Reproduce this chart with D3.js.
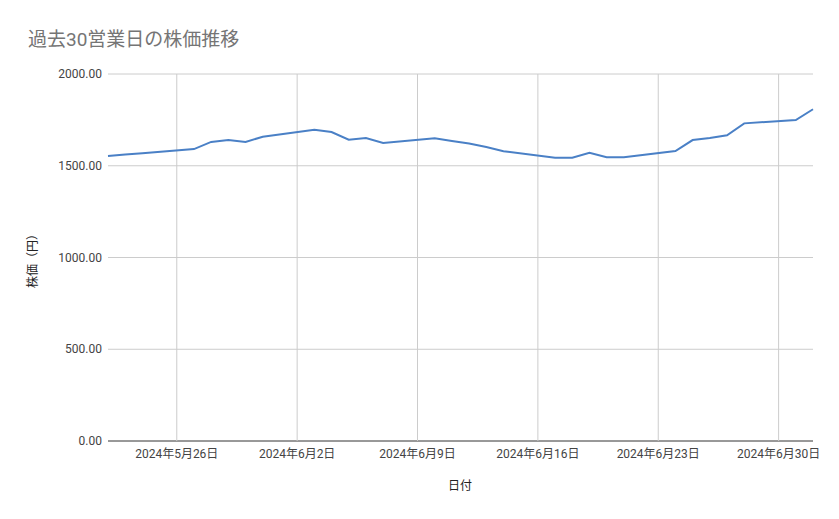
<!DOCTYPE html><html><head><meta charset="utf-8"><script src="https://cdn.jsdelivr.net/npm/d3@7"></script>
<style>body{margin:0;background:#fff}text{font-family:Roboto,"Noto Sans CJK JP",sans-serif}</style></head><body><svg id="c" width="839" height="519"></svg>
<script>
const dates=["2024-05-22","2024-05-23","2024-05-24","2024-05-27","2024-05-28","2024-05-29","2024-05-30","2024-05-31","2024-06-03","2024-06-04","2024-06-05","2024-06-06","2024-06-07","2024-06-10","2024-06-11","2024-06-12","2024-06-13","2024-06-14","2024-06-17","2024-06-18","2024-06-19","2024-06-20","2024-06-21","2024-06-24","2024-06-25","2024-06-26","2024-06-27","2024-06-28","2024-07-01","2024-07-02"];
const prices=[1553,1561,1568,1591,1630,1640,1630,1658,1696,1684,1642,1651,1624,1650,1635,1621,1602,1579,1544,1544,1571,1546,1546,1580,1640,1651,1666,1731,1749,1808];
const yTicks=[0,500,1000,1500,2000];
const xTicks=["2024-05-26","2024-06-02","2024-06-09","2024-06-16","2024-06-23","2024-06-30"];
const p=d3.timeParse("%Y-%m-%d");
const svg=d3.select("#c");
const L=108,R=813,T=74,B=441;
const x=d3.scaleTime().domain([p(dates[0]),p(dates[dates.length-1])]).range([L,R]);
const y=d3.scaleLinear().domain([0,2000]).range([B,T]);
svg.append("g").selectAll("line").data(yTicks).join("line").attr("x1",L).attr("x2",R).attr("y1",d=>y(d)).attr("y2",d=>y(d)).attr("stroke",d=>d===0?"#333":"#ccc");
svg.append("g").selectAll("line").data(xTicks).join("line").attr("x1",d=>x(p(d))).attr("x2",d=>x(p(d))).attr("y1",T).attr("y2",B).attr("stroke","#ccc");
svg.append("g").selectAll("text").data(yTicks).join("text").attr("x",L-6).attr("y",d=>y(d)+4).attr("text-anchor","end").attr("font-size",12).attr("fill","#444").text(d=>d.toFixed(2));
svg.append("g").selectAll("text").data(xTicks).join("text").attr("x",d=>x(p(d))).attr("y",B+17).attr("text-anchor","middle").attr("font-size",12).attr("fill","#444").text(d=>{const t=p(d);return `${t.getFullYear()}年${t.getMonth()+1}月${t.getDate()}日`;});
svg.append("path").datum(dates.map((d,i)=>[p(d),prices[i]])).attr("fill","none").attr("stroke","#4a80c6").attr("stroke-width",2).attr("d",d3.line().x(d=>x(d[0])).y(d=>y(d[1])));
svg.append("text").attr("x",28).attr("y",46).attr("font-size",19).attr("fill","#757575").text("過去30営業日の株価推移");
svg.append("text").attr("x",460).attr("y",490).attr("text-anchor","middle").attr("font-size",12).attr("fill","#222").text("日付");
svg.append("text").attr("transform","translate(37,258) rotate(-90)").attr("text-anchor","middle").attr("font-size",12).attr("fill","#222").text("株価（円）");
</script></body></html>
